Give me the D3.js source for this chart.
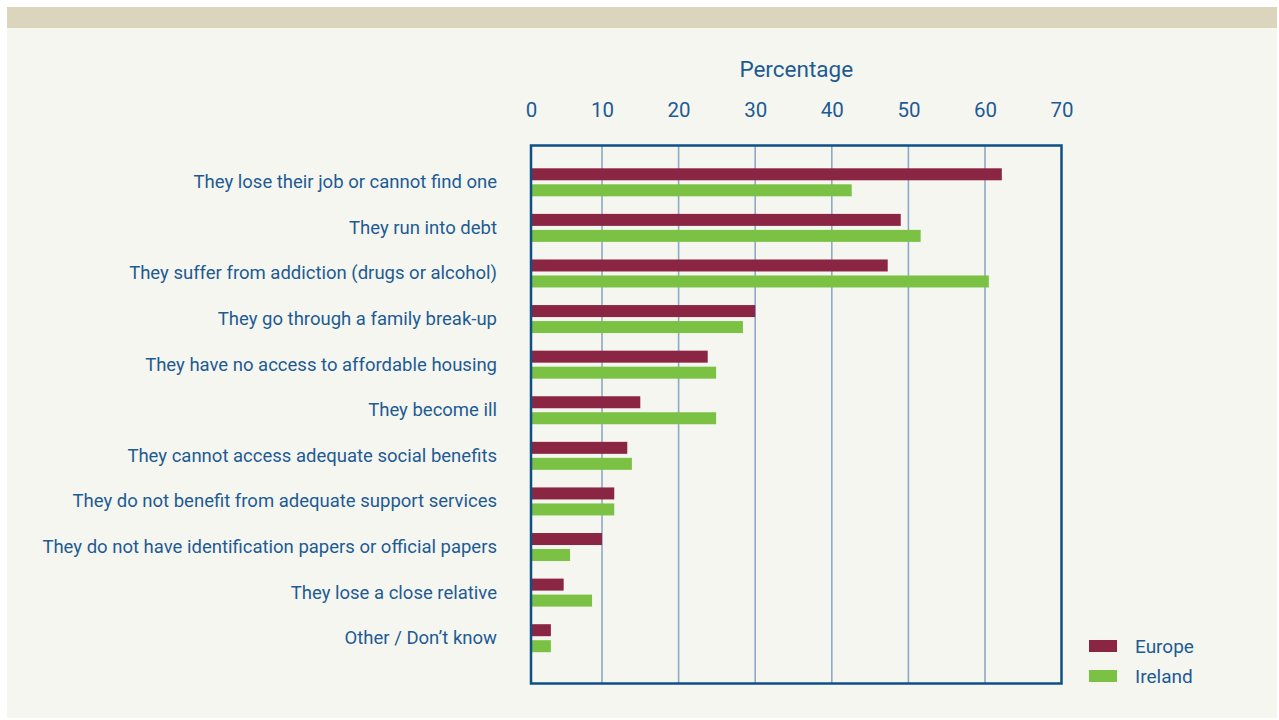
<!DOCTYPE html>
<html>
<head>
<meta charset="utf-8">
<script src="https://cdn.jsdelivr.net/npm/d3@7"></script>
<style>
  html, body { margin: 0; padding: 0; background: #ffffff; }
  svg { display: block; font-family: Roboto, "Open Sans", sans-serif; }
</style>
</head>
<body>
<svg id="chart" width="1279" height="720"></svg>
<script>
// Reasons people become homeless, Europe vs Ireland (percentage of respondents)
const categories = [
  "They lose their job or cannot find one",
  "They run into debt",
  "They suffer from addiction (drugs or alcohol)",
  "They go through a family break-up",
  "They have no access to affordable housing",
  "They become ill",
  "They cannot access adequate social benefits",
  "They do not benefit from adequate support services",
  "They do not have identification papers or official papers",
  "They lose a close relative",
  "Other / Don\u2019t know"
];
const seriesNames = ["Europe", "Ireland"];
const europeValues  = [62.2, 49.0, 47.3, 30.0, 23.8, 15.0, 13.3, 11.6, 10.0, 4.6, 2.8];
const irelandValues = [42.6, 51.6, 60.5, 28.4, 24.9, 24.9, 13.9, 11.6, 5.5, 8.6, 2.8];
const xTicks = [0, 10, 20, 30, 40, 50, 60, 70];
const axisTitle = "Percentage";

const colors = { Europe: "#8a2643", Ireland: "#7bc143" };
const textColor = "#1d5b93";
const frameColor = "#0d4f87";
const gridColor = "#8ea8c9";

const rows = categories.map((c, i) => ({ category: c, Europe: europeValues[i], Ireland: irelandValues[i] }));

const svg = d3.select("#chart");

// page background and header band
svg.append("rect").attr("x", 7).attr("y", 7).attr("width", 1270).attr("height", 711).attr("fill", "#f6f6f1");
svg.append("rect").attr("x", 7).attr("y", 7).attr("width", 1270).attr("height", 21).attr("fill", "#dbd5bd");

const frame = { left: 531, right: 1061.5, top: 145.5, bottom: 683.5 };

// x: percentage scale across the framed plot
const x = d3.scaleLinear().domain([0, 10, 60, 70]).range([frame.left, 602, 985, frame.right]);
// y: one band per category, and a sub-band per series
const y = d3.scaleBand().domain(categories).range([159.5, 661]).paddingInner(0).paddingOuter(0);
const ySub = d3.scaleBand().domain(seriesNames).range([-14, 14]).paddingInner(0.25).paddingOuter(0);

// vertical gridlines
svg.append("g").selectAll("line")
  .data(xTicks.filter(t => t > 0 && t < 70))
  .join("line")
  .attr("x1", d => x(d)).attr("x2", d => x(d))
  .attr("y1", frame.top).attr("y2", frame.bottom)
  .attr("stroke", gridColor).attr("stroke-width", 1.6);

// bars
const groups = svg.append("g").selectAll("g")
  .data(rows)
  .join("g")
  .attr("transform", d => `translate(0,${y(d.category) + y.bandwidth() / 2})`);

groups.selectAll("rect")
  .data(d => seriesNames.map(s => ({ series: s, value: d[s] })))
  .join("rect")
  .attr("x", x(0))
  .attr("y", d => ySub(d.series))
  .attr("width", d => x(d.value) - x(0))
  .attr("height", ySub.bandwidth())
  .attr("fill", d => colors[d.series]);

// plot frame
svg.append("rect")
  .attr("x", frame.left).attr("y", frame.top)
  .attr("width", frame.right - frame.left).attr("height", frame.bottom - frame.top)
  .attr("fill", "none").attr("stroke", frameColor).attr("stroke-width", 2.5);

// top axis labels
const xAxis = d3.axisTop(x).tickValues(xTicks).tickSize(0).tickPadding(0).tickFormat(d3.format("d"));
const axisG = svg.append("g").attr("transform", "translate(0,117)").call(xAxis);
axisG.select(".domain").remove();
axisG.selectAll("text")
  .attr("fill", textColor)
  .attr("font-size", 20.5)
  .attr("font-family", "Roboto, sans-serif")
  .attr("dy", 0);

svg.append("text")
  .attr("x", (frame.left + frame.right) / 2)
  .attr("y", 76.5)
  .attr("text-anchor", "middle")
  .attr("fill", textColor)
  .attr("font-size", 22.5)
  .text(axisTitle);

// category labels
svg.append("g").selectAll("text")
  .data(categories)
  .join("text")
  .attr("x", 497)
  .attr("y", d => y(d) + y.bandwidth() / 2 + 6)
  .attr("text-anchor", "end")
  .attr("fill", textColor)
  .attr("font-size", 18.5)
  .text(d => d);

// legend
const legendY = d3.scalePoint().domain(seriesNames).range([646, 676]);
const legend = svg.append("g").selectAll("g")
  .data(seriesNames)
  .join("g")
  .attr("transform", d => `translate(1089,${legendY(d)})`);
legend.append("rect")
  .attr("x", 0).attr("y", -6).attr("width", 28).attr("height", 12)
  .attr("fill", d => colors[d]);
legend.append("text")
  .attr("x", 46).attr("y", 6.5)
  .attr("fill", textColor)
  .attr("font-size", 19)
  .text(d => d);
</script>
</body>
</html>
